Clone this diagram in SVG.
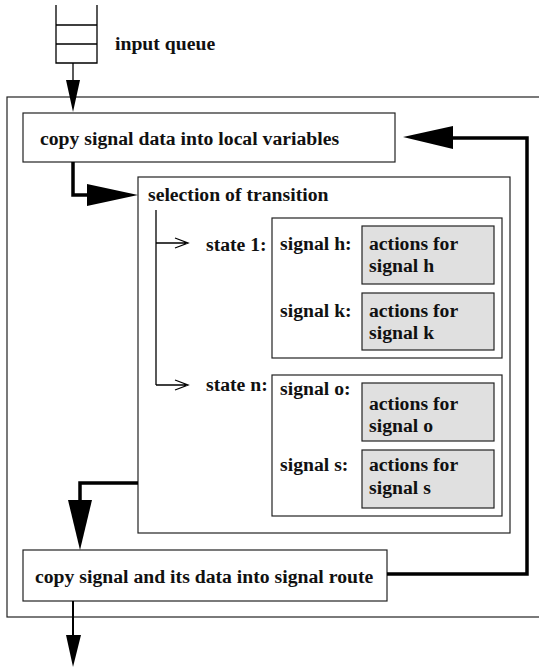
<svg xmlns="http://www.w3.org/2000/svg" width="539" height="669" viewBox="0 0 539 669">
<style>
text{font-family:"Liberation Serif","Times New Roman",serif;font-weight:bold;font-size:19.7px;fill:#111}
.box{fill:#fff;stroke:#222;stroke-width:1.2}
.act{fill:#e0e0e0;stroke:#222;stroke-width:1.2}
.thick{fill:none;stroke:#000;stroke-width:3.5}
.thin{fill:none;stroke:#000;stroke-width:1.3}
.head{fill:#000}
</style>
<rect width="539" height="669" fill="#fff"/>
<g id="outer"><rect x="7" y="97" width="545" height="520" fill="none" stroke="#222" stroke-width="1.2"/></g>
<g id="queue">
<path d="M56 5V63H97V5M56 25H97M56 44H97" class="thin"/>
<text x="115" y="50">input queue</text>
</g>
<g id="copyIn"><rect class="box" x="23" y="113" width="372" height="49"/><text x="40" y="145">copy signal data into local variables</text></g>
<g id="selection"><rect class="box" x="138" y="177" width="372" height="356"/><text x="148" y="201">selection of transition</text></g>
<g id="state1">
<text x="206" y="251">state 1:</text>
<rect class="box" x="272" y="218" width="230" height="140"/>
<text x="280" y="250">signal h:</text>
<rect class="act" x="362" y="226" width="132" height="58"/>
<text x="369" y="250">actions for</text><text x="369" y="272">signal h</text>
<text x="280" y="317">signal k:</text>
<rect class="act" x="362" y="293" width="132" height="57"/>
<text x="369" y="317">actions for</text><text x="369" y="339">signal k</text>
</g>
<g id="stateN">
<text x="206" y="391">state n:</text>
<rect class="box" x="272" y="375" width="230" height="141"/>
<text x="280" y="395">signal o:</text>
<rect class="act" x="362" y="383" width="132" height="58"/>
<text x="369" y="410">actions for</text><text x="369" y="432">signal o</text>
<text x="280" y="471">signal s:</text>
<rect class="act" x="362" y="450" width="132" height="58"/>
<text x="369" y="471">actions for</text><text x="369" y="494">signal s</text>
</g>
<g id="copyOut"><rect class="box" x="23" y="550" width="364" height="51"/><text x="35" y="583">copy signal and its data into signal route</text></g>
<g id="connectors">
<path class="thin" d="M73 63V82"/>
<path class="head" d="M66 80L80 80L73 112Z"/>
<path class="thick" d="M73 162V195H90"/>
<path class="head" d="M87 184L138 195L87 206Z"/>
<path class="thin" d="M156 210V385"/>
<path class="thin" d="M156 243H186M175 238L188 243L175 248"/>
<path class="thin" d="M156 385H186M175 380L188 385L175 390"/>
<path class="thick" d="M138 483H80V502"/>
<path class="head" d="M68 500L92 500L80 550Z"/>
<path class="thick" d="M387 574H527V138H450"/>
<path class="head" d="M453 126L403 137L453 149Z"/>
<path class="thin" d="M73 601V637" style="stroke-width:2"/>
<path class="head" d="M66 635L81 635L73 667Z"/>
</g>
</svg>
